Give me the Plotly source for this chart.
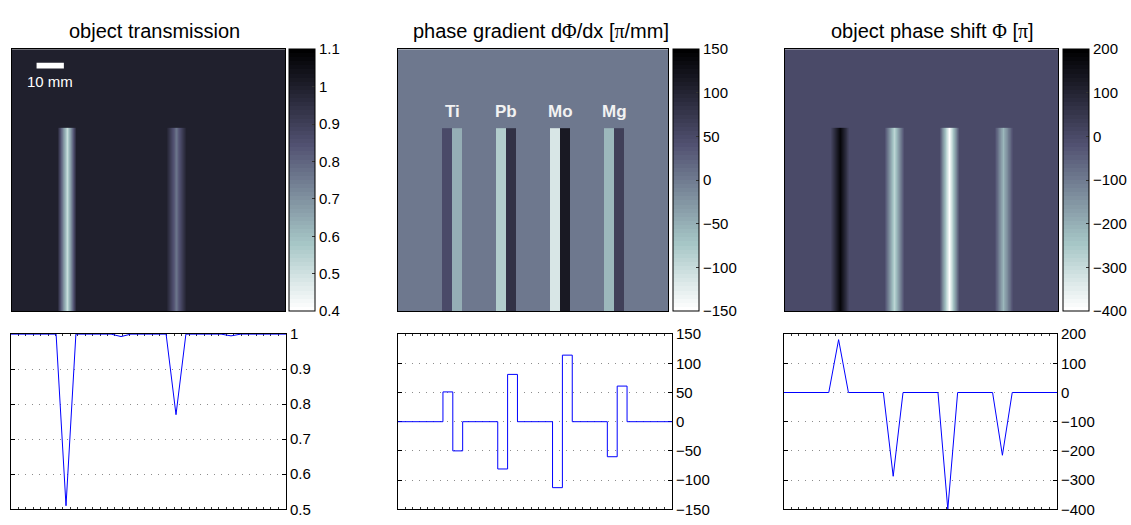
import plotly.graph_objects as go

# ---------------------------------------------------------------- data
ROD_NAMES = ["Ti", "Pb", "Mo", "Mg"]
ROD_CENTER_MM = [20.0, 40.0, 60.0, 80.0]
ROD_HALF_WIDTH_MM = [3.6, 3.6, 3.6, 3.6]
ROD_LENGTH_MM = 70.0
FIELD_MM = [0.0, 100.0]

TRANSMISSION_BG = 1.0
TRANSMISSION_MIN = [0.51, 0.993, 0.77, 0.995]

GRADIENT_BG = 0.0
GRADIENT_LEFT = [51, -81, -113, -60]     # pi/mm on the left half of each rod
GRADIENT_RIGHT = [-50, 81, 114, 61]      # pi/mm on the right half of each rod

PHASE_BG = 0.0
PHASE_PEAK = [181, -287, -400, -215]     # pi, at the rod axis

SCALE_BAR_MM = 10

SERIF = "font-family:Liberation Serif"
TITLES = ["object transmission",
          f"phase gradient d<span style='{SERIF}'>Φ</span>/dx "
          f"[<span style='{SERIF}'>π</span>/mm]",
          f"object phase shift <span style='{SERIF}'>Φ</span> "
          f"[<span style='{SERIF}'>π</span>]"]

CBAR_T_TICKS = [0.4, 0.5, 0.6, 0.7, 0.8, 0.9, 1.0, 1.1]
CBAR_T_TEXT = ["0.4", "0.5", "0.6", "0.7", "0.8", "0.9", "1", "1.1"]
CBAR_G_TICKS = [-150, -100, -50, 0, 50, 100, 150]
CBAR_P_TICKS = [-400, -300, -200, -100, 0, 100, 200]

LINE_T_TICKS = [0.5, 0.6, 0.7, 0.8, 0.9, 1.0]
LINE_T_TEXT = ["0.5", "0.6", "0.7", "0.8", "0.9", "1"]

# ---------------------------------------------------------------- geometry
W, H = 1131, 525
FONT = "Liberation Sans, Arial, Helvetica, sans-serif"


def fx(px):
    return px / W


def fy(px):
    return 1 - px / H


def minus(vals):
    return [str(v).replace("-", "\u2212") for v in vals]


IMG_X = [(12, 285), (398, 668), (785, 1058)]
IMG_Y = (41.5, 312.5)
CBAR_LEFT = [289, 673, 1063]
CBAR_THICK = 26
LINE_X = [(11, 286), (398, 672), (784, 1057)]
LINE_Y = (336, 517)
TITLE_CX = [154, 541, 932]
TITLE_CY = 22.5


# ---------------------------------------------------------------- colormap
def bone_r(m=64):
    """MATLAB bone(m), flipped so that low values are white."""
    n = int(3 / 8 * m)
    cols = []
    for i in range(m):
        g = i / (m - 1)
        hr = min(1.0, (i + 1) / n)
        hg = 0.0 if i < n else min(1.0, (i + 1 - n) / n)
        hb = 0.0 if i < 2 * n else (i + 1 - 2 * n) / (m - 2 * n)
        cols.append(((7 * g + hb) / 8, (7 * g + hg) / 8, (7 * g + hr) / 8))
    cols = cols[::-1]
    scale = []
    for i, (r, g, b) in enumerate(cols):
        c = f"rgb({round(r * 255)},{round(g * 255)},{round(b * 255)})"
        scale.append([i / m, c])
        scale.append([(i + 1) / m, c])
    return scale


CMAP = bone_r()

# ---------------------------------------------------------------- profiles
prof_x = [FIELD_MM[0]]
trans_y = [TRANSMISSION_BG]
phase_y = [PHASE_BG]
grad_edges = [FIELD_MM[0]]
grad_vals = [GRADIENT_BG]
for c, w, tmin, gl, gr, pk in zip(ROD_CENTER_MM, ROD_HALF_WIDTH_MM, TRANSMISSION_MIN,
                                  GRADIENT_LEFT, GRADIENT_RIGHT, PHASE_PEAK):
    prof_x += [c - w, c, c + w]
    trans_y += [TRANSMISSION_BG, tmin, TRANSMISSION_BG]
    phase_y += [PHASE_BG, pk, PHASE_BG]
    grad_edges += [c - w, c, c + w]
    grad_vals += [gl, gr, GRADIENT_BG]
prof_x.append(FIELD_MM[1])
trans_y.append(TRANSMISSION_BG)
phase_y.append(PHASE_BG)
grad_edges.append(FIELD_MM[1])

fig = go.Figure()

# ---------------------------------------------------------------- images
rod_rows = [0.0, ROD_LENGTH_MM / 2, ROD_LENGTH_MM]

# transmission: uniform background, rods laid over the lower part
fig.add_trace(go.Heatmap(x=FIELD_MM, y=FIELD_MM, z=[[TRANSMISSION_BG]], zsmooth=False,
                         coloraxis="coloraxis", xaxis="x", yaxis="y", hoverinfo="skip"))
fig.add_trace(go.Heatmap(x=prof_x, y=rod_rows, z=[trans_y, trans_y], zsmooth="best",
                         coloraxis="coloraxis", xaxis="x", yaxis="y", hoverinfo="skip"))
# phase gradient: piecewise constant strips
fig.add_trace(go.Heatmap(x=grad_edges, y=[0.0, ROD_LENGTH_MM, FIELD_MM[1]],
                         z=[grad_vals, [GRADIENT_BG] * len(grad_vals)], zsmooth=False,
                         coloraxis="coloraxis2", xaxis="x2", yaxis="y2", hoverinfo="skip"))
# phase shift
fig.add_trace(go.Heatmap(x=FIELD_MM, y=FIELD_MM, z=[[PHASE_BG]], zsmooth=False,
                         coloraxis="coloraxis3", xaxis="x3", yaxis="y3", hoverinfo="skip"))
fig.add_trace(go.Heatmap(x=prof_x, y=rod_rows, z=[phase_y, phase_y], zsmooth="best",
                         coloraxis="coloraxis3", xaxis="x3", yaxis="y3", hoverinfo="skip"))

# ---------------------------------------------------------------- profiles below
line_style = dict(color="#0000ff", width=1)
fig.add_trace(go.Scatter(x=prof_x, y=trans_y, mode="lines", line=line_style,
                         xaxis="x4", yaxis="y4", showlegend=False))
fig.add_trace(go.Scatter(x=grad_edges, y=grad_vals + [grad_vals[-1]], mode="lines",
                         line=dict(shape="hv", **line_style),
                         xaxis="x5", yaxis="y5", showlegend=False))
fig.add_trace(go.Scatter(x=prof_x, y=phase_y, mode="lines", line=line_style,
                         xaxis="x6", yaxis="y6", showlegend=False))


# ---------------------------------------------------------------- axes
def img_axes(i):
    xa = dict(domain=[fx(IMG_X[i][0]), fx(IMG_X[i][1])], range=FIELD_MM,
              showticklabels=False, ticks="", showgrid=False, zeroline=False,
              showline=True, mirror=True, linecolor="black", linewidth=1)
    ya = dict(domain=[fy(IMG_Y[1]), fy(IMG_Y[0])], range=FIELD_MM,
              showticklabels=False, ticks="", showgrid=False, zeroline=False,
              showline=True, mirror=True, linecolor="black", linewidth=1)
    return xa, ya


def line_axes(i, rng, tickvals, ticktext):
    xa = dict(domain=[fx(LINE_X[i][0]), fx(LINE_X[i][1])], range=FIELD_MM,
              showticklabels=False, ticks="inside", ticklen=2, tickcolor="#333",
              tick0=0, dtick=2.7, showgrid=False, zeroline=False,
              showline=True, mirror="ticks", linecolor="black", linewidth=1,
              layer="below traces")
    ya = dict(domain=[fy(LINE_Y[1]), fy(LINE_Y[0])], range=rng, side="right",
              tickvals=tickvals, ticktext=ticktext, ticks="inside", ticklen=4,
              tickcolor="black", showgrid=True, gridcolor="#8c8c8c", gridwidth=1,
              griddash="1px,6px", zeroline=False, showline=True, mirror="ticks",
              linecolor="black", linewidth=1, layer="below traces",
              ticklabeloverflow="allow",
              tickfont=dict(family=FONT, size=15, color="black"))
    return xa, ya


axes = {}
for i in range(3):
    xa, ya = img_axes(i)
    sfx = "" if i == 0 else str(i + 1)
    xa["anchor"] = "y" + sfx
    ya["anchor"] = "x" + sfx
    axes["xaxis" + sfx] = xa
    axes["yaxis" + sfx] = ya

line_specs = [([0.5, 1.0], LINE_T_TICKS, LINE_T_TEXT),
              ([-150, 150], CBAR_G_TICKS, minus(CBAR_G_TICKS)),
              ([-400, 200], CBAR_P_TICKS, minus(CBAR_P_TICKS))]
for i, (rng, tv, tt) in enumerate(line_specs):
    xa, ya = line_axes(i, rng, tv, tt)
    n = str(i + 4)
    xa["anchor"] = "y" + n
    ya["anchor"] = "x" + n
    axes["xaxis" + n] = xa
    axes["yaxis" + n] = ya


def cbar(i, tickvals, ticktext):
    return dict(x=fx(CBAR_LEFT[i]), xanchor="left", xpad=0,
                y=fy(IMG_Y[0]), yanchor="top", ypad=0,
                len=(IMG_Y[1] - IMG_Y[0]) / H, lenmode="fraction",
                thickness=CBAR_THICK, thicknessmode="pixels",
                outlinewidth=1, outlinecolor="black",
                ticks="inside", ticklen=3, tickcolor="#333",
                tickvals=tickvals, ticktext=ticktext,
                ticklabeloverflow="allow",
                tickfont=dict(family=FONT, size=15, color="black"))


fig.update_layout(
    width=W, height=H,
    margin=dict(l=0, r=0, t=0, b=0),
    paper_bgcolor="white", plot_bgcolor="white",
    showlegend=False,
    font=dict(family=FONT, color="black"),
    coloraxis=dict(colorscale=CMAP, cmin=0.4, cmax=1.1,
                   colorbar=cbar(0, CBAR_T_TICKS, CBAR_T_TEXT)),
    coloraxis2=dict(colorscale=CMAP, cmin=-150, cmax=150,
                    colorbar=cbar(1, CBAR_G_TICKS, minus(CBAR_G_TICKS))),
    coloraxis3=dict(colorscale=CMAP, cmin=-400, cmax=200,
                    colorbar=cbar(2, CBAR_P_TICKS, minus(CBAR_P_TICKS))),
    **axes,
)

# titles
for cx, title in zip(TITLE_CX, TITLES):
    fig.add_annotation(text=title, x=fx(cx), y=fy(TITLE_CY), xref="paper", yref="paper",
                       xanchor="center", yanchor="middle", showarrow=False,
                       font=dict(family=FONT, size=20, color="black"))

# rod labels above the gradient map
for name, c in zip(ROD_NAMES, ROD_CENTER_MM):
    fig.add_annotation(text=f"<b>{name}</b>", x=c, y=76.4, xref="x2", yref="y2",
                       xanchor="center", yanchor="middle", showarrow=False,
                       font=dict(family=FONT, size=17, color="#f2f2f2"))

# scale bar on the transmission map
bar_x0 = 9.0
fig.add_shape(type="rect", x0=bar_x0, x1=bar_x0 + SCALE_BAR_MM, y0=92.6, y1=94.8,
              xref="x", yref="y", fillcolor="white", line=dict(width=0))
fig.add_annotation(text=f"{SCALE_BAR_MM} mm", x=bar_x0 + SCALE_BAR_MM / 2, y=87.5,
                   xref="x", yref="y", xanchor="center", yanchor="middle",
                   showarrow=False, font=dict(family=FONT, size=15, color="white"))

fig.write_html("out.html")
